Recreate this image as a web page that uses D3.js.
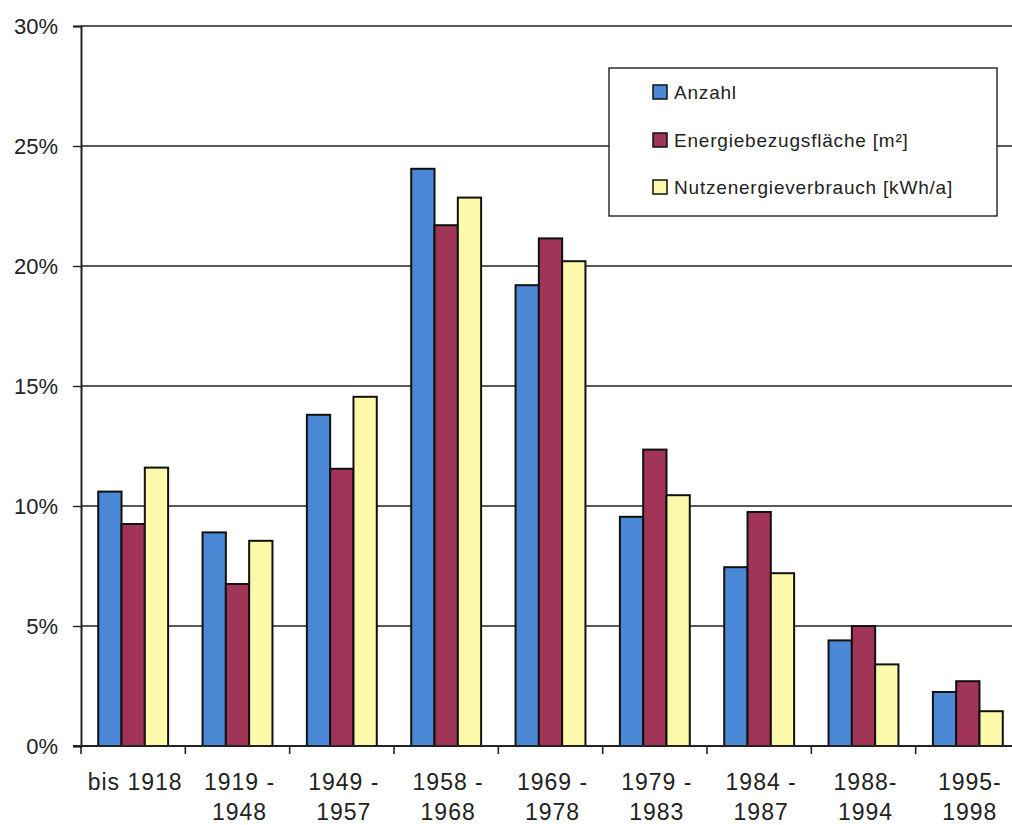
<!DOCTYPE html>
<html>
<head>
<meta charset="utf-8">
<script src="https://cdn.jsdelivr.net/npm/d3@7"></script>
<style>
  html, body { margin: 0; padding: 0; background: #fff; }
  svg { display: block; }
</style>
</head>
<body>
<svg id="chart" width="1012" height="825"></svg>
<script>
// Baualtersklassen (two label lines each)
const categories = [
  ["bis 1918", ""],
  ["1919 -", "1948"],
  ["1949 -", "1957"],
  ["1958 -", "1968"],
  ["1969 -", "1978"],
  ["1979 -", "1983"],
  ["1984 -", "1987"],
  ["1988-", "1994"],
  ["1995-", "1998"]
];
const seriesNames = ["Anzahl", "Energiebezugsfläche [m²]", "Nutzenergieverbrauch [kWh/a]"];
const anzahl     = [10.6, 8.9, 13.8, 24.05, 19.2, 9.55, 7.45, 4.4, 2.25];
const flaeche    = [9.25, 6.75, 11.55, 21.7, 21.15, 12.35, 9.75, 5.0, 2.7];
const verbrauch  = [11.6, 8.55, 14.55, 22.85, 20.2, 10.45, 7.2, 3.4, 1.45];
const yTicks = [0, 5, 10, 15, 20, 25, 30];
const colors = ["#4a88d6", "#a03558", "#fdf9aa"];

const values = [anzahl, flaeche, verbrauch];
const svg = d3.select("#chart");
const font = "'Liberation Sans', Arial, Helvetica, sans-serif";

const plotLeft = 81, plotRight = 1020, plotTop = 26, plotBottom = 746;

const x = d3.scaleBand()
  .domain(d3.range(categories.length))
  .range([plotLeft, plotRight])
  .paddingInner(0.33)
  .paddingOuter(0.165);
const xOuter = d3.scaleBand().domain(d3.range(categories.length)).range([plotLeft, plotRight]);
const xInner = d3.scaleBand().domain(d3.range(seriesNames.length)).range([0, x.bandwidth()]);
const y = d3.scaleLinear().domain([0, 30]).range([plotBottom, plotTop]);

// horizontal gridlines
svg.append("g")
  .selectAll("line")
  .data(yTicks.filter(t => t > 0))
  .join("line")
  .attr("x1", plotLeft).attr("x2", plotRight)
  .attr("y1", d => y(d)).attr("y2", d => y(d))
  .attr("stroke", "#222").attr("stroke-width", 1.4);

// y axis
const yAxis = d3.axisLeft(y).tickValues(yTicks).tickSize(8).tickFormat(d => d + "%");
const gy = svg.append("g").attr("transform", `translate(${plotLeft},0)`).call(yAxis);
gy.select(".domain").attr("stroke", "#222").attr("stroke-width", 2);
gy.selectAll(".tick line").attr("stroke", "#222").attr("stroke-width", 1.4);
gy.selectAll(".tick text")
  .attr("x", -23)
  .attr("dy", "0.36em")
  .style("font-family", font).style("font-size", "22px").attr("fill", "#222");

// bars
const groups = svg.append("g")
  .selectAll("g")
  .data(categories.map((c, i) => i))
  .join("g")
  .attr("transform", i => `translate(${x(i)},0)`);
groups.selectAll("rect")
  .data(i => values.map((s, k) => ({ k, v: s[i] })))
  .join("rect")
  .attr("x", d => xInner(d.k))
  .attr("width", xInner.bandwidth())
  .attr("y", d => y(d.v))
  .attr("height", d => y(0) - y(d.v))
  .attr("fill", d => colors[d.k])
  .attr("stroke", "#111").attr("stroke-width", 2);

// x axis line and category boundary ticks
svg.append("line")
  .attr("x1", plotLeft - 8).attr("x2", plotRight)
  .attr("y1", plotBottom).attr("y2", plotBottom)
  .attr("stroke", "#222").attr("stroke-width", 2);
svg.append("g")
  .selectAll("line")
  .data(d3.range(categories.length))
  .join("line")
  .attr("x1", i => xOuter(i)).attr("x2", i => xOuter(i))
  .attr("y1", plotBottom).attr("y2", plotBottom + 8)
  .attr("stroke", "#222").attr("stroke-width", 1.6);

// category labels
const labelX = i => xOuter(i) + xOuter.bandwidth() / 2 + 2;
const lab = svg.append("g")
  .selectAll("text")
  .data(categories)
  .join("text")
  .attr("text-anchor", "middle")
  .style("font-family", font).style("font-size", "23px")
  .style("letter-spacing", "1px").attr("fill", "#222");
lab.append("tspan").attr("x", (d, i) => labelX(i)).attr("y", 790).text(d => d[0]);
lab.append("tspan").attr("x", (d, i) => labelX(i)).attr("y", 820).text(d => d[1]);

// legend
const legend = svg.append("g").attr("transform", "translate(609,68)");
legend.append("rect")
  .attr("width", 388).attr("height", 148)
  .attr("fill", "#fff").attr("stroke", "#222").attr("stroke-width", 1.4);
const rowY = [24, 72, 119];
const items = legend.selectAll("g.item")
  .data(seriesNames)
  .join("g")
  .attr("class", "item")
  .attr("transform", (d, i) => `translate(44,${rowY[i]})`);
items.append("rect")
  .attr("x", 0).attr("y", -7).attr("width", 14).attr("height", 14)
  .attr("fill", (d, i) => colors[i]).attr("stroke", "#111").attr("stroke-width", 1.5);
items.append("text")
  .attr("x", 21).attr("dy", "0.36em")
  .style("font-family", font).style("font-size", "19px")
  .style("letter-spacing", "0.8px").attr("fill", "#222")
  .text(d => d);
</script>
</body>
</html>
